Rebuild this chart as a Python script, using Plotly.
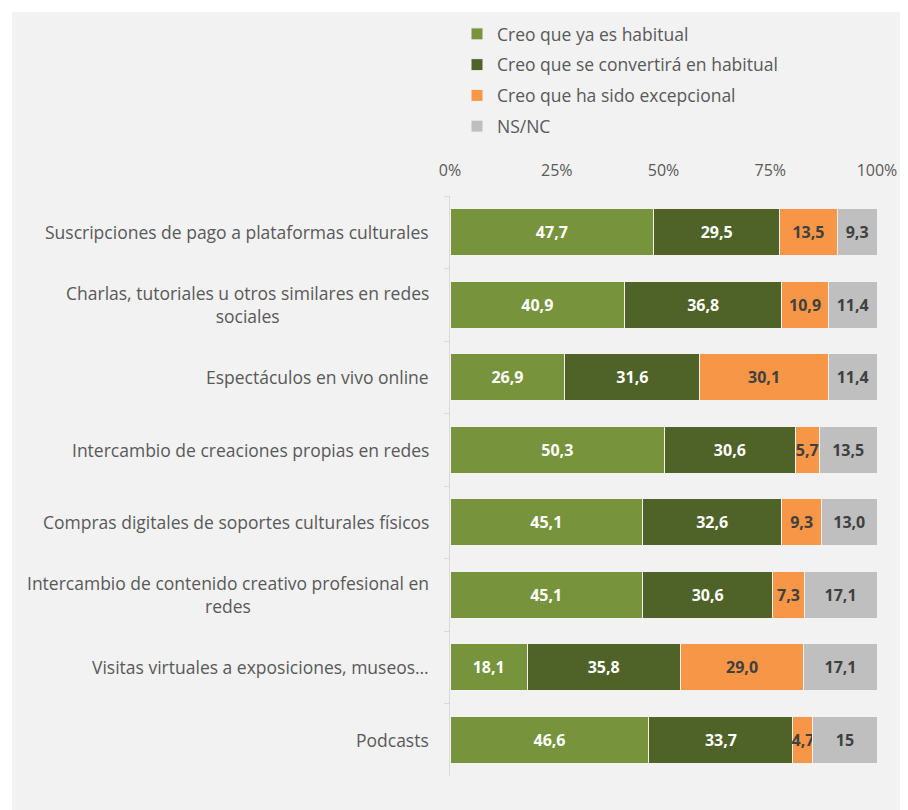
import plotly.graph_objects as go

categories = [
    "Suscripciones de pago a plataformas culturales",
    "Charlas, tutoriales u otros similares en redes<br>sociales",
    "Espectáculos en vivo online",
    "Intercambio de creaciones propias en redes",
    "Compras digitales de soportes culturales físicos",
    "Intercambio de contenido creativo profesional en<br>redes",
    "Visitas virtuales a exposiciones, museos…",
    "Podcasts",
]
ya_habitual = [47.7, 40.9, 26.9, 50.3, 45.1, 45.1, 18.1, 46.6]
se_convertira = [29.5, 36.8, 31.6, 30.6, 32.6, 30.6, 35.8, 33.7]
excepcional = [13.5, 10.9, 30.1, 5.7, 9.3, 7.3, 29.0, 4.7]
ns_nc = [9.3, 11.4, 11.4, 13.5, 13.0, 17.1, 17.1, 15]
series_names = ["Creo que ya es habitual", "Creo que se convertirá en habitual",
                "Creo que ha sido excepcional", "NS/NC"]
series_values = [ya_habitual, se_convertira, excepcional, ns_nc]
series_colors = ["#77933c", "#4f6228", "#f79646", "#bfbfbf"]
text_colors = ["white", "white", "#404040", "#404040"]
tick_vals = [0, 25, 50, 75, 100]
tick_text = ["0%", "25%", "50%", "75%", "100%"]

FONT = "Open Sans"


def fmt(v):
    s = str(v) if isinstance(v, int) else "%.1f" % v
    return s.replace(".", ",")


# page body has an 8px margin; figure sized to fit the 908x810 window
OFF = 8
W, H = 908 - OFF, 810 - OFF
L, T = 450 - OFF, 196 - OFF
pw, ph = 427, 580
R, B = W - L - pw, H - T - ph

fig = go.Figure()
for name, vals, col, tcol in zip(series_names, series_values, series_colors, text_colors):
    fig.add_trace(go.Bar(
        y=categories, x=vals, name=name, orientation="h",
        marker=dict(color=col, line=dict(color="#f2f2f2", width=1)),
        text=[fmt(v) for v in vals], textposition="inside",
        insidetextanchor="middle", textangle=0,
        textfont=dict(family=FONT, size=16, color=tcol, weight="bold"),
        legendgroup=name,
        hoverinfo="skip",
    ))

for c in categories:
    fig.add_annotation(x=0, y=c, xref="paper", yref="y", xanchor="right", yanchor="middle",
                       xshift=-19, text=c, showarrow=False, align="center",
                       font=dict(family=FONT, size=17.5, color="#595959"))

fig.add_shape(type="rect", xref="paper", yref="paper", layer="below",
              x0=(12 - OFF - L) / pw, x1=(W + 5 - L) / pw,
              y0=-(B + 5) / ph, y1=1 + (T - (12 - OFF)) / ph,
              fillcolor="#f2f2f2", line=dict(width=0))

fig.update_layout(
    width=W, height=H,
    margin=dict(l=L, r=R, t=T, b=B, autoexpand=False),
    barmode="stack", barnorm="percent", bargap=0.35,
    paper_bgcolor="white", plot_bgcolor="rgba(0,0,0,0)",
    uniformtext=dict(minsize=16, mode="show"),
    showlegend=True,
    legend=dict(xref="container", yref="container",
                x=(497 - OFF - 40) / W, y=1 - (16 - OFF) / H,
                xanchor="left", yanchor="top",
                bgcolor="rgba(0,0,0,0)", tracegroupgap=5, traceorder="grouped",
                font=dict(family=FONT, size=17.5, color="#595959")),
    xaxis=dict(side="top", range=[0, 100], tickvals=tick_vals, ticktext=tick_text,
               showgrid=False, zeroline=False, showline=False,
               ticks="outside", ticklen=13, tickcolor="rgba(0,0,0,0)",
               tickfont=dict(family=FONT, size=16, color="#595959"), fixedrange=True),
    yaxis=dict(autorange="reversed", showticklabels=False, showline=True,
               linecolor="#d9d9d9", linewidth=1, ticks="outside", ticklen=5,
               tickcolor="#d9d9d9", tickson="boundaries", showgrid=False,
               categoryorder="array", categoryarray=categories),
)

fig.write_html("out.html")
